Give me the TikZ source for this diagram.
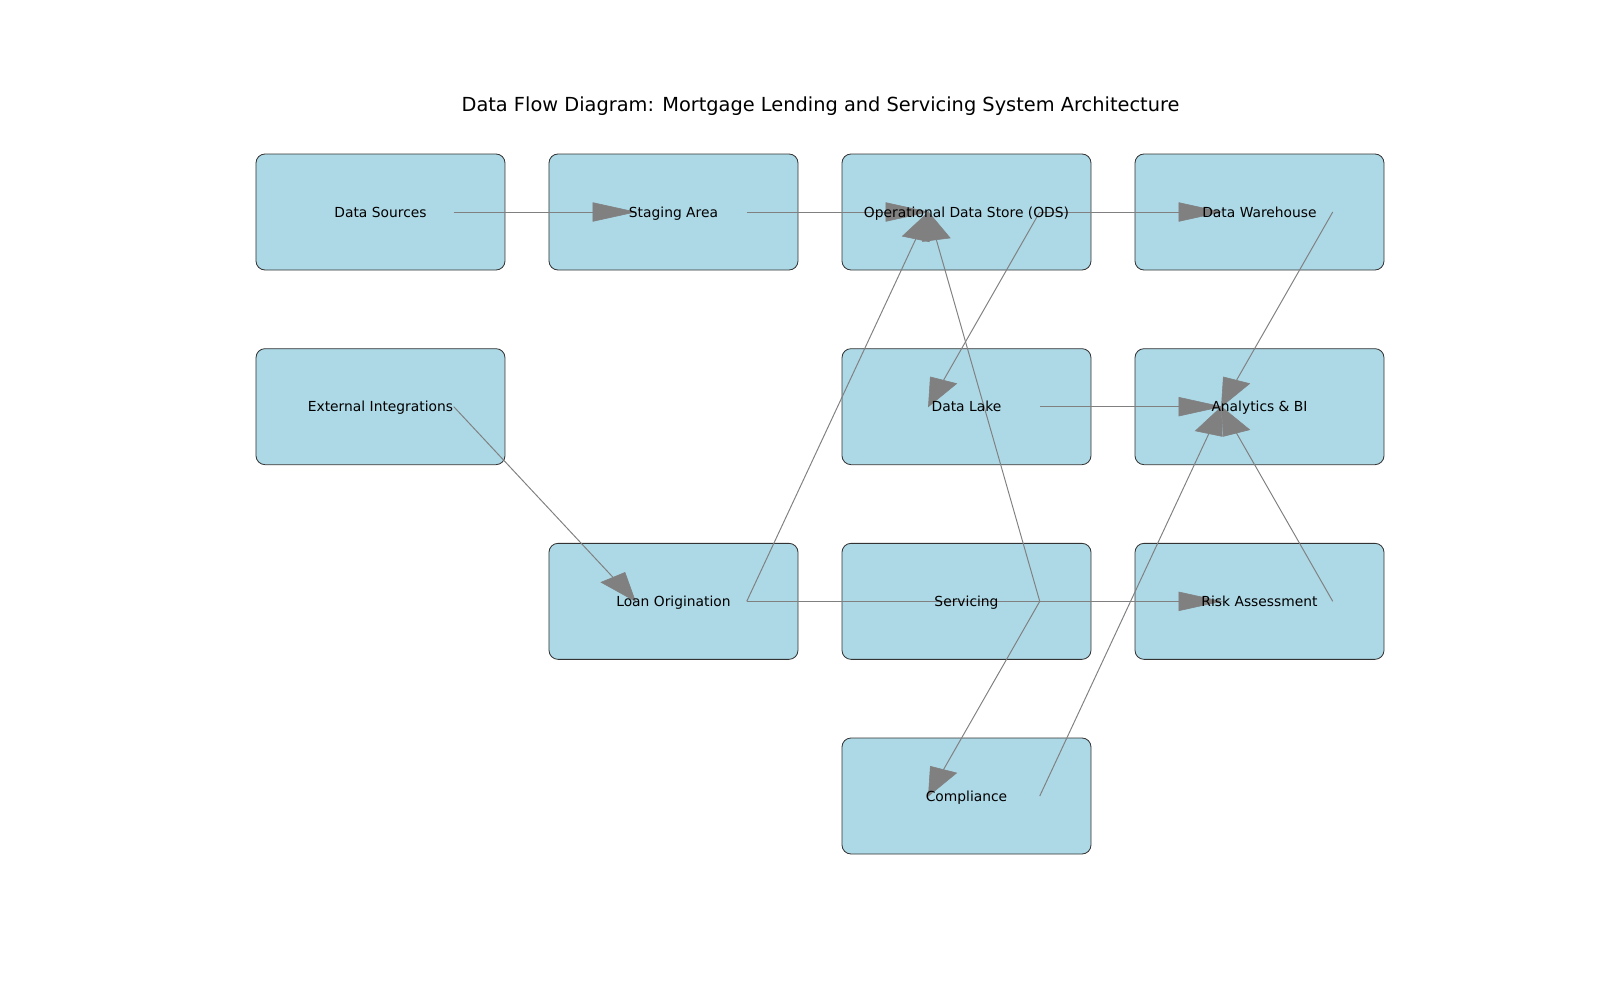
\documentclass[tikz,border=0pt]{standalone}
\usepackage{fontspec}
\setmainfont{DejaVu Sans}
\usetikzlibrary{calc}
\definecolor{boxfill}{HTML}{ADD8E6}
\definecolor{flowgray}{HTML}{808080}
\tikzset{
  box/.style={draw=black!80, line width=0.6pt, fill=boxfill, rounded corners=6.5pt,
    minimum width=2.49in, minimum height=1.16in, inner sep=0pt},
  lbl/.style={font=\fontsize{10}{12}\selectfont, inner sep=0pt, text height=0.75em, text depth=0pt},
  ttl/.style={font=\fontsize{14}{17}\selectfont, inner sep=0pt, anchor=base},
  flowline/.style={draw=flowgray, line width=0.7pt},
  flowhead/.style={fill=flowgray, draw=flowgray, line width=0.4pt, line join=miter},
}
\pgfmathsetmacro\sxpt{2.93in}
\pgfmathsetmacro\sypt{-1.9467in}
\def\flowL{0.145}
\def\flowW{0.048}
\newcommand\flow[2]{%
  \pgfpointanchor{#1}{center}\pgfgetlastxy{\fax}{\fay}%
  \pgfpointanchor{#2}{center}\pgfgetlastxy{\fbx}{\fby}%
  \pgfmathsetmacro\fux{(\fbx-\fax)/\sxpt}%
  \pgfmathsetmacro\fuy{(\fby-\fay)/\sypt}%
  \pgfmathsetmacro\flen{veclen(\fux,\fuy)}%
  \pgfmathsetmacro\fdx{\fux/\flen}%
  \pgfmathsetmacro\fdy{\fuy/\flen}%
  \pgfmathsetmacro\fbasex{-\flowL*\fdx}%
  \pgfmathsetmacro\fbasey{-\flowL*\fdy}%
  \pgfmathsetmacro\fpx{-\flowW*\fdy}%
  \pgfmathsetmacro\fpy{\flowW*\fdx}%
  \draw[flowline] (#1) -- ($(#2)+(\fbasex,\fbasey)$);
  \filldraw[flowhead] (#2) -- ($(#2)+(\fbasex,\fbasey)+(\fpx,\fpy)$) -- ($(#2)+(\fbasex,\fbasey)-(\fpx,\fpy)$) -- cycle;
}
\begin{document}
\begin{tikzpicture}[x={(2.93in,0)}, y={(0,-1.9467in)}]
\useasboundingbox (-1.29863,-1.08902) rectangle (4.16212,4.04787);
% boxes
\node[box] (ds) at (0,0) {};
\node[box] (sa) at (1,0) {};
\node[box] (ods) at (2,0) {};
\node[box] (dw) at (3,0) {};
\node[box] (ext) at (0,1) {};
\node[box] (dl) at (2,1) {};
\node[box] (abi) at (3,1) {};
\node[box] (lo) at (1,2) {};
\node[box] (sv) at (2,2) {};
\node[box] (ra) at (3,2) {};
\node[box] (co) at (2,3) {};
\foreach \n in {ds,sa,ods,dw,ext,dl,abi,lo,sv,ra,co}{
  \coordinate (\n-out) at ($(\n)+(0.25,0)$);
  \coordinate (\n-in) at ($(\n)+(-0.13,0)$);
}
% title
\node[ttl] (title) at (1.5017,-0.5152) {Data Flow Diagram: Mortgage Lending and Servicing System Architecture};
% connectors
\flow{ds-out}{sa-in}
\flow{sa-out}{ods-in}
\flow{ods-out}{dw-in}
\flow{ods-out}{dl-in}
\flow{dw-out}{abi-in}
\flow{ext-out}{lo-in}
\flow{lo-out}{ods-in}
\flow{dl-out}{abi-in}
\flow{lo-out}{ra-in}
\flow{sv-out}{ods-in}
\flow{sv-out}{co-in}
\flow{ra-out}{abi-in}
\flow{co-out}{abi-in}
% labels
\node[lbl] (ds-l) at (ds) {Data Sources};
\node[lbl] (sa-l) at (sa) {Staging Area};
\node[lbl] (ods-l) at (ods) {Operational Data Store (ODS)};
\node[lbl] (dw-l) at (dw) {Data Warehouse};
\node[lbl] (ext-l) at (ext) {External Integrations};
\node[lbl] (dl-l) at (dl) {Data Lake};
\node[lbl] (abi-l) at (abi) {Analytics \& BI};
\node[lbl] (lo-l) at (lo) {Loan Origination};
\node[lbl] (sv-l) at (sv) {Servicing};
\node[lbl] (ra-l) at (ra) {Risk Assessment};
\node[lbl] (co-l) at (co) {Compliance};
\end{tikzpicture}
\end{document}
